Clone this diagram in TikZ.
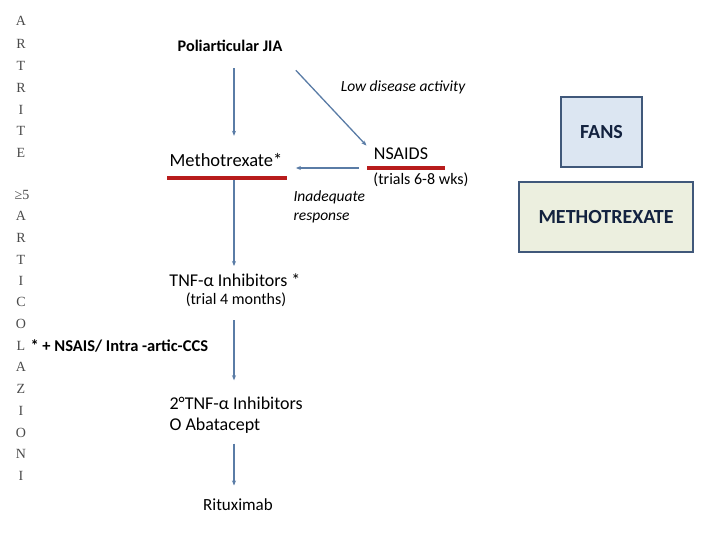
\documentclass[tikz,border=0pt]{standalone}
\usepackage{fontspec}
\setmainfont{Carlito}
\newfontfamily\sidefont{Liberation Serif}
\usetikzlibrary{arrows.meta}
\definecolor{FlowBlue}{HTML}{5A7CA6}
\definecolor{BarRed}{HTML}{B81C1C}
\definecolor{BoxEdge}{HTML}{40587A}
\definecolor{FansFill}{HTML}{DCE6F2}
\definecolor{MtxFill}{HTML}{ECEFDF}
\definecolor{BoxText}{HTML}{13223F}
\definecolor{SideGray}{HTML}{4A4A4A}

\tikzset{
  flow/.style={draw=FlowBlue, line width=1.3pt, -{Stealth[length=5pt,width=4pt]}},
  redbar/.style={fill=BarRed, inner sep=0pt, minimum height=4pt},
  side/.style={text=SideGray, font=\sidefont\fontsize{14}{14}\selectfont},
  legend/.style={draw=BoxEdge, line width=2.6pt, text=BoxText, font=\fontsize{20}{20}\selectfont\bfseries}
}

\begin{document}
\begin{tikzpicture}[x=1pt,y=-1pt]
        \useasboundingbox (0,0) rectangle (720,540);
        % left column
        \node[side] (a1) at (21,21) {A};
        \node[side] (a2) at (21,44) {R};
        \node[side] (a3) at (21,66) {T};
        \node[side] (a4) at (21,88) {R};
        \node[side] (a5) at (21,110) {I};
        \node[side] (a6) at (21,131) {T};
        \node[side] (a7) at (21,153) {E};
        \node[side] (b0) at (22,195) {≥5};
        \node[side] (b1) at (21,216) {A};
        \node[side] (b2) at (21,238) {R};
        \node[side] (b3) at (21,260) {T};
        \node[side] (b4) at (21,281) {I};
        \node[side] (b5) at (21,302) {C};
        \node[side] (b6) at (21,324) {O};
        \node[side] (b7) at (21,346) {L};
        \node[side] (b8) at (21,367) {A};
        \node[side] (b9) at (21,389) {Z};
        \node[side] (b10) at (21,411) {I};
        \node[side] (b11) at (21,433) {O};
        \node[side] (b12) at (21,454) {N};
        \node[side] (b13) at (21,476) {I};
        % flow chart
        \coordinate (axis) at (234,0);
        \node[font=\fontsize{16.2}{16.2}\selectfont\bfseries] (jia) at (230,46) {Poliarticular JIA};
        \node[font=\fontsize{15.5}{15.5}\selectfont\itshape] (low) at (403,87) {Low disease activity};
        \node[font=\fontsize{18.5}{18.5}\selectfont] (mtx) at (226,160) {Methotrexate*};
        \node[redbar, minimum width=120pt] (mbar) at (227,178) {};
        \node[font=\fontsize{18}{18}\selectfont] (nsaids) at (401,154) {NSAIDS};
        \node[redbar, minimum width=78pt] (nbar) at (406,168) {};
        \node[font=\fontsize{16}{16}\selectfont] (trials) at (421,180) {(trials 6-8 wks)};
        \node[font=\fontsize{15.5}{19}\selectfont\itshape, anchor=west, align=left] (inad) at (290,207) {Inadequate\\response};
        \node[font=\fontsize{18}{18}\selectfont] (tnf) at (235,280) {TNF-α Inhibitors *};
        \node[font=\fontsize{16}{16}\selectfont] (trial4) at (236,300) {(trial 4 months)};
        \node[font=\fontsize{16.5}{16.5}\selectfont\bfseries, anchor=west] (note) at (27,346) {* + NSAIS/ Intra -artic-CCS};
        \node[font=\fontsize{18}{21}\selectfont, anchor=west, align=left] (second) at (166,415) {2°TNF-α Inhibitors\\O Abatacept};
        \node[font=\fontsize{17}{17}\selectfont] (ritux) at (238,505) {Rituximab};
        % legend boxes
        \node[legend, fill=FansFill, minimum width=81pt, minimum height=70pt] (fans) at (601.5,132) {FANS};
        \node[legend, fill=MtxFill, minimum width=174pt, minimum height=70pt] (mtxbox) at (606,217) {METHOTREXATE};
        % arrows
        \draw[flow, shorten <=13pt, shorten >=14pt] (jia.south -| axis) -- (mtx.north -| axis);
        \draw[flow] ([shift={(10,15)}]jia.south east) -- ([shift={(-4,1)}]nsaids.north west);
        \draw[flow, shorten <=8pt, shorten >=10pt] (nbar.west) -- (nbar.west -| mtx.east);
        \draw[flow, shorten >=4pt] (mbar.south -| axis) -- (tnf.north -| axis);
        \draw[flow, shorten <=10pt, shorten >=13pt] (trial4.south -| axis) -- (second.north -| axis);
        \draw[flow, shorten <=7pt, shorten >=10pt] (second.south -| axis) -- (ritux.north -| axis);
\end{tikzpicture}
\end{document}
